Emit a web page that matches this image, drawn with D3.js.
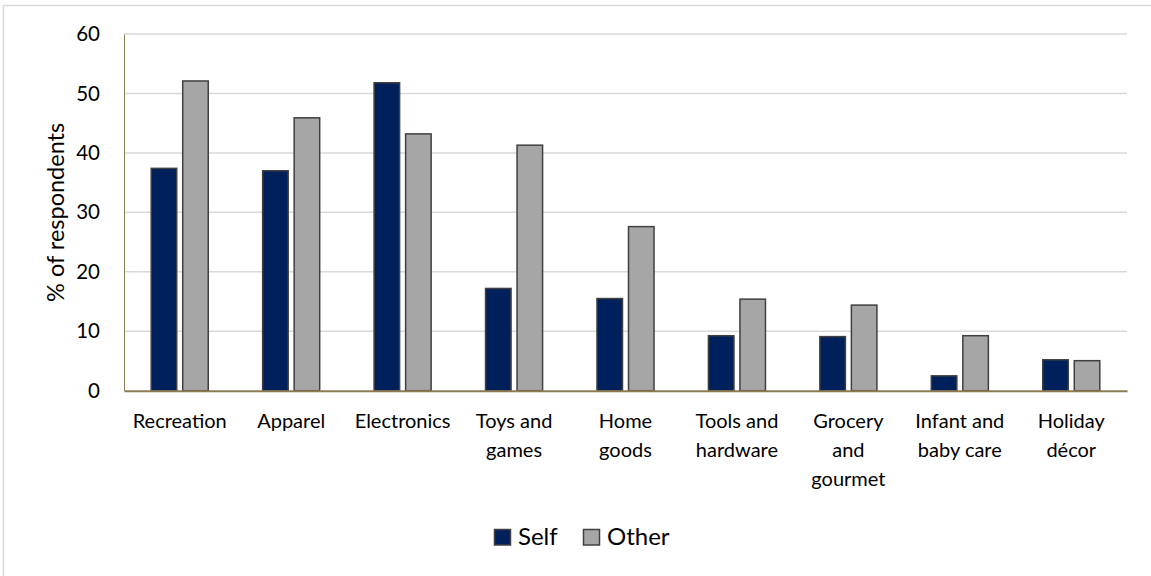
<!DOCTYPE html>
<html>
<head>
<meta charset="utf-8">
<script src="https://cdn.jsdelivr.net/npm/d3@7"></script>
<style>
  html, body { margin: 0; padding: 0; background: #fff; }
  svg { display: block; }
  text { font-family: Lato, "Noto Sans", sans-serif; fill: #000; }
</style>
</head>
<body>
<svg id="chart" width="1151" height="576"></svg>
<script>
const categories = ["Recreation", "Apparel", "Electronics", "Toys and games", "Home goods",
  "Tools and hardware", "Grocery and gourmet", "Infant and baby care", "Holiday décor"];
const tickLabels = [["Recreation"], ["Apparel"], ["Electronics"], ["Toys and", "games"], ["Home", "goods"],
  ["Tools and", "hardware"], ["Grocery", "and", "gourmet"], ["Infant and", "baby care"], ["Holiday", "décor"]];
const seriesNames = ["Self", "Other"];
const selfValues = [37.4, 37.0, 51.8, 17.2, 15.5, 9.25, 9.1, 2.5, 5.2];
const otherValues = [52.1, 45.9, 43.2, 41.3, 27.6, 15.4, 14.4, 9.25, 5.05];
const yTicks = [0, 10, 20, 30, 40, 50, 60];
const yTitle = "% of respondents";

const colors = { Self: "#00205B", Other: "#A6A6A6" };
const values = { Self: selfValues, Other: otherValues };

const svg = d3.select("#chart");

// outer chart border (only left/top edges visible)
svg.append("rect")
  .attr("x", 3.5).attr("y", 5.5).attr("width", 1200).attr("height", 620)
  .attr("fill", "none").attr("stroke", "#d9d9d9").attr("stroke-width", 1.5);

const plot = { left: 124, right: 1127, top: 34, bottom: 390.7 };

const x = d3.scaleBand().domain(categories).range([plot.left, plot.right]).paddingInner(0).paddingOuter(0);
const xs = d3.scaleBand().domain(seriesNames).range([0, x.bandwidth()]).paddingInner(0.19).paddingOuter(0.863);
const y = d3.scaleLinear().domain([0, 60]).range([plot.bottom, plot.top]);

// gridlines
svg.append("g").selectAll("line").data(yTicks.filter(t => t > 0)).join("line")
  .attr("x1", plot.left).attr("x2", plot.right)
  .attr("y1", d => y(d)).attr("y2", d => y(d))
  .attr("stroke", "#d9d9d9").attr("stroke-width", 1.5);

// y axis
const yAxis = d3.axisLeft(y).tickValues(yTicks).tickSize(0).tickPadding(24);
const gy = svg.append("g").attr("transform", `translate(${plot.left},0)`).call(yAxis);
gy.select(".domain").attr("stroke", "#8C7B55").attr("stroke-width", 1);
gy.selectAll("text").style("font-family", "Lato, 'Noto Sans', sans-serif").style("font-size", "20.5px").attr("fill", "#000");

// bars
const groups = svg.append("g").selectAll("g").data(categories).join("g")
  .attr("transform", d => `translate(${x(d)},0)`);
groups.selectAll("rect").data((d, i) => seriesNames.map(s => ({ s, v: values[s][i] }))).join("rect")
  .attr("x", d => xs(d.s))
  .attr("width", xs.bandwidth())
  .attr("y", d => y(d.v))
  .attr("height", d => y(0) - y(d.v))
  .attr("fill", d => colors[d.s])
  .attr("stroke", "#404040").attr("stroke-width", 1.5);

// x axis
const xAxis = d3.axisBottom(x).tickSize(0).tickFormat(() => "");
const gx = svg.append("g").attr("transform", `translate(0,${plot.bottom})`).call(xAxis);
gx.select(".domain").attr("stroke", "#8C7B55").attr("stroke-width", 2);
gx.selectAll(".tick").each(function (d, i) {
  const t = d3.select(this).select("text")
    .attr("y", 0).attr("dy", null)
    .style("font-family", "Lato, 'Noto Sans', sans-serif").style("font-size", "20px")
    .attr("fill", "#000").attr("text-anchor", "middle");
  t.text(null);
  tickLabels[i].forEach((line, k) => {
    t.append("tspan").attr("x", 0).attr("y", 37 + k * 29).text(line);
  });
});

// y title
svg.append("text")
  .attr("transform", `translate(64,${(plot.top + plot.bottom) / 2}) rotate(-90)`)
  .attr("text-anchor", "middle")
  .style("font-size", "23.5px")
  .text(yTitle);

// legend
const legendItems = [{ s: "Self", x: 494 }, { s: "Other", x: 583 }];
const lg = svg.append("g").selectAll("g").data(legendItems).join("g")
  .attr("transform", d => `translate(${d.x},529)`);
lg.append("rect").attr("x", 0.5).attr("y", 0.5).attr("width", 16).attr("height", 15.5)
  .attr("fill", d => colors[d.s]).attr("stroke", "#404040").attr("stroke-width", 1.5);
lg.append("text").attr("x", 24).attr("y", 16).style("font-size", "24px").text(d => d.s);
</script>
</body>
</html>
